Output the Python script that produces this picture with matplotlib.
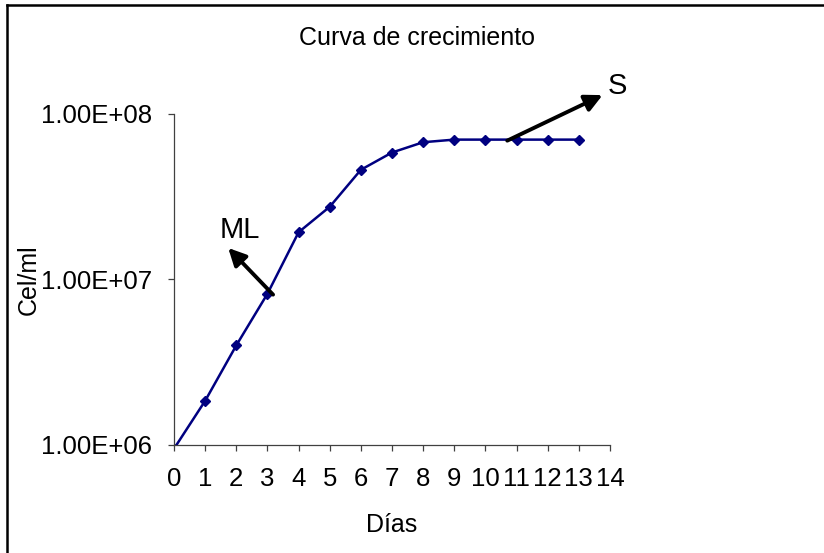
import matplotlib
matplotlib.use('Agg')
import matplotlib.pyplot as plt
from matplotlib.lines import Line2D

plt.rcParams['font.family'] = ['Liberation Sans', 'DejaVu Sans']

# datos de la curva
dias = [0, 1, 2, 3, 4, 5, 6, 7, 8, 9, 10, 11, 12, 13]
cel_ml = [9.5e5, 1.85e6, 4.0e6, 8.2e6, 1.93e7, 2.75e7, 4.6e7, 5.85e7,
          6.75e7, 7.0e7, 7.0e7, 7.0e7, 7.0e7, 7.0e7]
x_ticks = list(range(0, 15))
y_ticks = [1e6, 1e7, 1e8]
y_tick_labels = ['1.00E+06', '1.00E+07', '1.00E+08']

fig = plt.figure(figsize=(8.24, 5.53), dpi=100)
ax = fig.add_axes([0.2112, 0.1953, 0.5291, 0.5986])

ax.plot(dias, cel_ml, color='#000080', lw=1.8, marker='D', markersize=5.5,
        markerfacecolor='#000080', markeredgecolor='#000080')

ax.set_yscale('log')
ax.set_ylim(1e6, 1e8)
ax.set_xlim(0, 14)
ax.set_yticks(y_ticks)
ax.set_yticklabels(y_tick_labels)
ax.yaxis.set_minor_locator(matplotlib.ticker.NullLocator())
ax.set_xticks(x_ticks)

for s in ['top', 'right']:
    ax.spines[s].set_visible(False)
for s in ['left', 'bottom']:
    ax.spines[s].set_color('#404040')
    ax.spines[s].set_linewidth(0.9)
ax.tick_params(axis='both', direction='out', length=4, width=0.9,
               color='#404040', labelsize=18.5)
ax.tick_params(axis='y', pad=12)
ax.tick_params(axis='x', pad=12)

ax.set_xlabel('Días', fontsize=18)
ax.set_ylabel('Cel/ml', fontsize=18)
ax.xaxis.set_label_coords(0.5, -0.205)
ax.yaxis.set_label_coords(-0.305, 0.5)

fig.text(417 / 824, 1 - 38 / 553, 'Curva de crecimiento', fontsize=18,
         ha='center', va='center')

# flechas de fases
ax.annotate('', xy=(1.74, 1.55e7), xytext=(3.18, 8.1e6),
            arrowprops=dict(arrowstyle='-|>', color='black', lw=2.8,
                            mutation_scale=26, shrinkA=0, shrinkB=0))
ax.text(2.12, 2.0e7, 'ML', fontsize=21, ha='center', va='center')

ax.annotate('', xy=(13.76, 1.3e8), xytext=(10.7, 6.9e7),
            arrowprops=dict(arrowstyle='-|>', color='black', lw=2.8,
                            mutation_scale=26, shrinkA=0, shrinkB=0),
            annotation_clip=False)
ax.text(14.25, 1.47e8, 'S', fontsize=21, ha='center', va='center', clip_on=False)

# borde del grafico
fig.add_artist(Line2D([7 / 824, 7 / 824], [0, 1 - 5 / 553], color='black',
                      lw=1.8, transform=fig.transFigure))
fig.add_artist(Line2D([7 / 824, 1], [1 - 5 / 553, 1 - 5 / 553], color='black',
                      lw=1.8, transform=fig.transFigure))

plt.savefig('out.png', dpi=100)
